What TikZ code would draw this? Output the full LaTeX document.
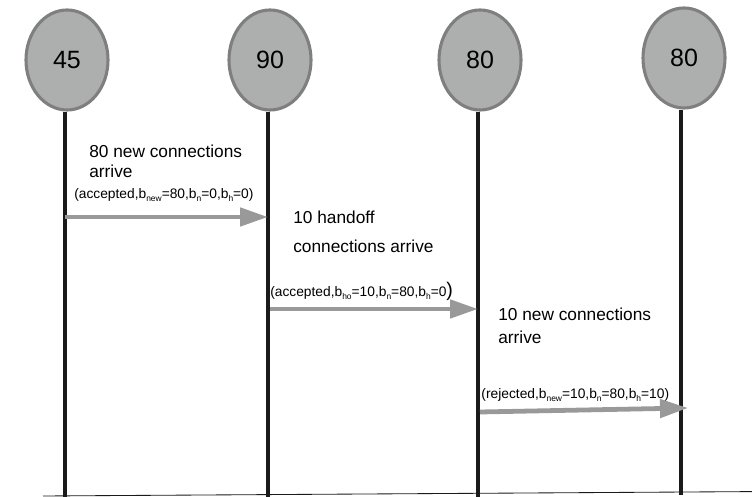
\documentclass[tikz,border=0pt]{standalone}
\usepackage{fontspec}
\setmainfont{Liberation Sans}
\usetikzlibrary{shapes.geometric,arrows.meta}
\definecolor{cellfill}{HTML}{ADAFAE}
\definecolor{celledge}{HTML}{7F7F7F}
\definecolor{msggray}{HTML}{999999}
\definecolor{lifeblack}{HTML}{1A1A1A}
\newcommand{\lowtxt}[1]{\raisebox{-0.45ex}{\fontsize{6}{6}\selectfont #1}}
\begin{document}
\begin{tikzpicture}[
   cell/.style={ellipse,draw=celledge,fill=cellfill,line width=2.2pt,minimum width=2.05cm,minimum height=2.5cm,inner sep=0pt,font=\fontsize{17.8}{18}\selectfont},
   life/.style={draw=lifeblack,line width=2.8pt},
   msg/.style={draw=msggray,line width=3.4pt,-{Triangle[length=0.7cm,width=0.45cm]}},
   note/.style={anchor=west,inner sep=0pt,font=\fontsize{12.3}{12.5}\selectfont},
   state/.style={anchor=west,inner sep=0pt,font=\fontsize{9.8}{10}\selectfont}]

   \useasboundingbox (0,0) rectangle (18.8,12.425);

   \node (cell-45) at (1.675,10.925) [cell] {45};
   \node (cell-90) at (6.75,10.925) [cell] {90};
   \node (cell-80a) at (12.0,10.925) [cell] {80};
   \node (cell-80b) at (17.1,10.975) [cell] {80};

   \coordinate (end-45) at (1.625,0.0);
   \coordinate (end-90) at (6.7,0.0);
   \coordinate (end-80a) at (11.95,0.0);
   \coordinate (end-80b) at (17.025,0.05);
   \coordinate (base-left) at (1.075,0.025);
   \coordinate (base-right) at (18.8,0.135);

   \draw [life] (cell-45.south -| end-45) -- (end-45);
   \draw [life] (cell-90.south -| end-90) -- (end-90);
   \draw [life] (cell-80a.south -| end-80a) -- (end-80a);
   \draw [life] (cell-80b.south -| end-80b) -- (end-80b);
   \draw [lifeblack,line width=0.6pt] (base-left) -- (base-right);

   \node (new-80) at (2.225,8.65) [note] {80 new connections};
   \node (new-80-arrive) at (2.225,8.15) [note] {arrive};
   \node (state-1) at (1.85,7.55) [state] {(accepted,b\lowtxt{new}=80,b\lowtxt{n}=0,b\lowtxt{h}=0)};

   \node (handoff-10) at (7.325,7.0) [note] {10 handoff};
   \node (handoff-10-arrive) at (7.325,6.275) [note] {connections arrive};
   \node (state-2) at (6.75,5.15) [state] {(accepted,b\lowtxt{ho}=10,b\lowtxt{n}=80,b\lowtxt{h}=0{\fontsize{14}{14}\selectfont)}};

   \node (new-10) at (12.45,4.575) [note] {10 new connections};
   \node (new-10-arrive) at (12.45,4.0) [note] {arrive};
   \node (state-3) at (12.03,2.55) [state] {(rejected,b\lowtxt{new}=10,b\lowtxt{n}=80,b\lowtxt{h}=10)};

   \coordinate (msg-1-from) at (1.625,7.0);
   \coordinate (msg-1-to) at (6.7,7.0);
   \coordinate (msg-2-from) at (6.75,4.7);
   \coordinate (msg-2-to) at (11.95,4.7);
   \coordinate (msg-3-from) at (12.0,2.125);
   \coordinate (msg-3-to) at (17.2,2.225);

   \draw [msg] (msg-1-from) -- (msg-1-to);
   \draw [msg] (msg-2-from) -- (msg-2-to);
   \draw [msg] (msg-3-from) -- (msg-3-to);

\end{tikzpicture}
\end{document}
